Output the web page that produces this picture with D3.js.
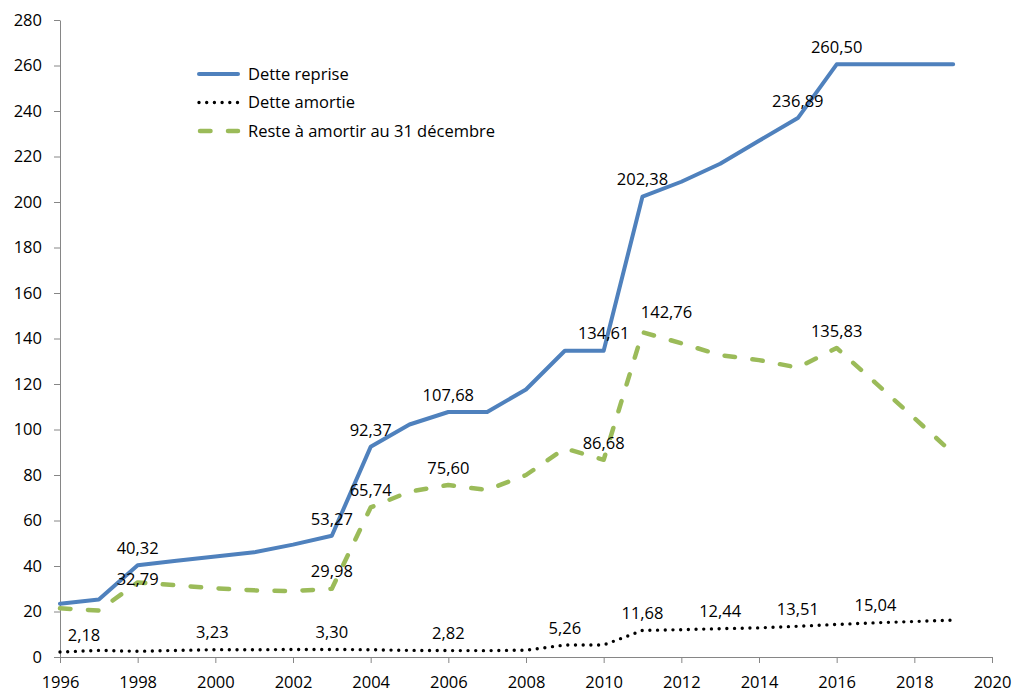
<!DOCTYPE html>
<html>
<head>
<meta charset="utf-8">
<script src="https://cdn.jsdelivr.net/npm/d3@7"></script>
<style>
  html, body { margin: 0; padding: 0; background: #fff; }
  svg { display: block; font-family: "Open Sans", sans-serif; }
  .axis path, .axis line { stroke: #868686; stroke-width: 1; }
  .axis text { font-size: 16.5px; fill: #000; font-family: "Open Sans", sans-serif; }
</style>
</head>
<body>
<svg id="chart" width="1013" height="690"></svg>
<script>
// Années
const years = d3.range(1996, 2020);

// Dette reprise (Md€)
const detteReprise = [23.4, 25.3, 40.32, 42.3, 44.2, 46.0, 49.4, 53.27, 92.37, 102.2, 107.68, 107.68,
  117.6, 134.61, 134.61, 202.38, 208.9, 216.8, 226.9, 236.89, 260.50, 260.50, 260.50, 260.50];

// Dette amortie (Md€)
const detteAmortie = [2.18, 2.9, 2.5, 2.9, 3.23, 3.2, 3.3, 3.30, 3.2, 2.9, 2.82, 2.8,
  3.0, 5.26, 5.3, 11.68, 12.0, 12.44, 12.8, 13.51, 14.3, 15.04, 15.6, 16.2];

// Reste à amortir au 31 décembre (Md€)
const resteAmortir = [21.4, 20.4, 32.79, 31.5, 30.2, 29.3, 29.0, 29.98, 65.74, 72.7, 75.60, 73.4,
  80.0, 91.7, 86.68, 142.76, 137.9, 132.7, 130.5, 127.2, 135.83, 120.5, 105.0, 89.5];

// Graduations
const xTicks = d3.range(1996, 2021, 2);
const yTicks = d3.range(0, 281, 20);

// Années étiquetées pour chaque série
const labelYearsReprise = [1998, 2003, 2004, 2006, 2010, 2011, 2015, 2016];
const labelYearsReste = [1998, 2003, 2004, 2006, 2010, 2011, 2016];
const labelYearsAmortie = [1996, 2000, 2003, 2006, 2009, 2011, 2013, 2015, 2017];

const svg = d3.select("#chart");
const margin = { left: 60, right: 21, top: 20, bottom: 33 };
const W = 1013, H = 690;
const fontSize = 16.5;

const x = d3.scaleLinear().domain([1996, 2020]).range([margin.left, W - margin.right]);
const y = d3.scaleLinear().domain([0, 280]).range([H - margin.bottom, margin.top]);

// Axes
svg.append("g").attr("class", "axis")
  .attr("transform", `translate(${margin.left},0)`)
  .call(d3.axisLeft(y).tickValues(yTicks).tickSize(6).tickSizeOuter(0).tickPadding(12).tickFormat(d3.format("d")));

const gx = svg.append("g").attr("class", "axis")
  .attr("transform", `translate(0,${H - margin.bottom})`)
  .call(d3.axisBottom(x).tickValues(xTicks).tickSize(6).tickSizeOuter(0).tickFormat(d3.format("d")));
gx.selectAll("text").attr("y", 30.5).attr("dy", null);

const fmt = v => d3.format(".2f")(v).replace(".", ",");

const series = [
  { name: "Dette reprise", values: detteReprise, color: "#4F81BD", width: 4, dash: null, cap: "round",
    labels: labelYearsReprise, offsets: {} },
  { name: "Dette amortie", values: detteAmortie, color: "#000000", width: 3.4, dash: "0 7.7", cap: "round",
    labels: labelYearsAmortie, offsets: { 1996: [24, 0], 2000: [-3, 0] } },
  { name: "Reste à amortir au 31 décembre", values: resteAmortir, color: "#9BBB59", width: 4.5, dash: "10.5 17.5", cap: "round",
    labels: labelYearsReste, offsets: { 1998: [0, 14], 2011: [24, -3] } }
];

const line = d3.line().x((d, i) => x(years[i])).y(d => y(d));

// Ordre de tracé : reste, amortie, reprise
[series[2], series[1], series[0]].forEach(s => {
  svg.append("path")
    .datum(s.values)
    .attr("fill", "none")
    .attr("stroke", s.color)
    .attr("stroke-width", s.width)
    .attr("stroke-linecap", s.cap)
    .attr("stroke-linejoin", "round")
    .attr("stroke-dasharray", s.dash)
    .attr("d", line);
});

// Étiquettes de données
series.forEach(s => {
  svg.append("g").selectAll("text")
    .data(s.labels)
    .join("text")
    .attr("x", yr => x(yr) + (s.offsets[yr] ? s.offsets[yr][0] : 0))
    .attr("y", yr => y(s.values[years.indexOf(yr)]) - 11.3 + (s.offsets[yr] ? s.offsets[yr][1] : 0))
    .attr("text-anchor", "middle")
    .attr("font-size", fontSize)
    .attr("fill", "#000")
    .text(yr => fmt(s.values[years.indexOf(yr)]));
});

// Légende
const legend = svg.append("g").attr("transform", "translate(198,74)");
series.forEach((s, i) => {
  const g = legend.append("g").attr("transform", `translate(0,${i * 28.5})`);
  g.append("line")
    .attr("x1", s.dash === "10.5 17.5" ? 2 : 1).attr("x2", 40)
    .attr("y1", 0).attr("y2", 0)
    .attr("stroke", s.color)
    .attr("stroke-width", s.width)
    .attr("stroke-linecap", s.cap)
    .attr("stroke-dasharray", s.dash);
  g.append("text")
    .attr("x", 50).attr("y", 5.9)
    .attr("font-size", fontSize)
    .attr("fill", "#000")
    .text(s.name);
});
</script>
</body>
</html>
